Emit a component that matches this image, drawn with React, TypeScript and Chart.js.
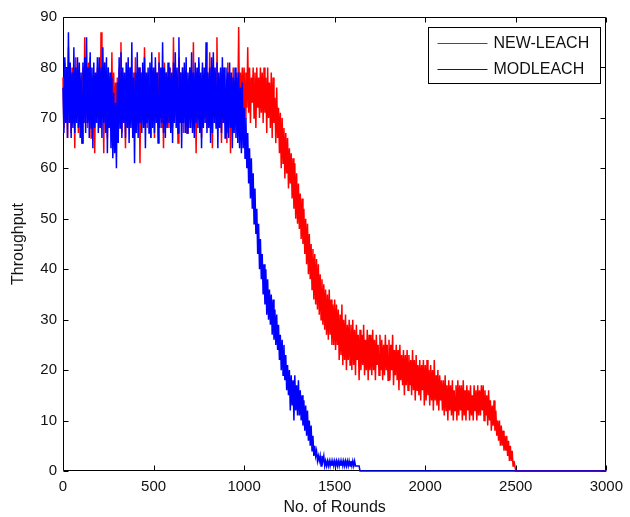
import { useEffect, useRef } from "react";
import { Chart, registerables } from "chart.js";

Chart.register(...registerables);

// rounds are sampled every ROUND_STEP rounds, starting at round 0
const ROUND_STEP = 5;
const LAST_ROUND = 3000;
const xTicks = [0, 500, 1000, 1500, 2000, 2500, 3000];
const yTicks = [0, 10, 20, 30, 40, 50, 60, 70, 80, 90];
const seriesNames = ["NEW-LEACH", "MODLEACH"];

const newLeach = [
  78, 68, 81, 70, 77, 66, 84, 71, 79, 67, 80, 69, 77, 64, 82, 70, 78, 67, 79, 71,
  76, 65, 80, 69, 86, 70, 78, 68, 81, 71, 82, 66, 78, 70, 79, 63, 77, 69, 80, 70,
  79, 68, 87, 70, 77, 63, 81, 71, 78, 66, 80, 69, 78, 70, 83, 67, 79, 66, 77, 70,
  78, 69, 80, 70, 85, 67, 79, 71, 77, 64, 81, 70, 78, 68, 80, 69, 77, 67, 79, 71,
  82, 68, 77, 70, 80, 61, 79, 70, 78, 69, 84, 71, 77, 68, 79, 70, 80, 66, 78, 70,
  77, 66, 80, 71, 79, 69, 83, 70, 78, 68, 77, 64, 81, 70, 79, 71, 78, 68, 80, 69,
  78, 68, 86, 70, 79, 71, 77, 65, 82, 70, 79, 69, 80, 67, 78, 70, 79, 67, 77, 71,
  80, 69, 78, 70, 85, 68, 77, 63, 79, 70, 81, 71, 78, 66, 80, 69, 77, 70, 79, 68,
  77, 70, 83, 68, 78, 64, 80, 71, 79, 69, 86, 70, 78, 68, 79, 65, 77, 70, 80, 69,
  76, 65, 81, 70, 79, 63, 78, 71, 80, 68, 77, 70, 79, 72, 88, 70, 79, 72, 80, 71,
  80, 70, 79, 72, 84, 71, 80, 69, 78, 73, 80, 70, 79, 68, 80, 72, 78, 70, 80, 71,
  79, 69, 80, 71, 78, 67, 80, 70, 77, 68, 79, 66, 78, 69, 74, 65, 76, 66, 72, 63,
  71, 60, 70, 61, 68, 58, 67, 59, 66, 56, 64, 57, 63, 54, 62, 52, 61, 50, 59, 49,
  57, 48, 55, 46, 54, 45, 52, 43, 50, 41, 49, 39, 47, 38, 45, 36, 44, 34, 43, 33,
  42, 32, 41, 31, 39, 30, 38, 29, 37, 28, 36, 27, 35, 26, 36, 27, 34, 25, 33, 25,
  34, 24, 33, 25, 32, 22, 31, 23, 33, 21, 30, 22, 31, 20, 29, 22, 30, 21, 29, 20,
  30, 21, 28, 19, 29, 22, 27, 18, 28, 20, 27, 21, 29, 19, 26, 20, 28, 18, 27, 20,
  27, 19, 28, 20, 26, 18, 27, 21, 25, 19, 27, 20, 26, 18, 25, 19, 27, 20, 25, 18,
  26, 18, 25, 20, 27, 17, 24, 19, 25, 18, 24, 16, 25, 18, 23, 17, 24, 15, 23, 17,
  24, 16, 23, 17, 22, 15, 24, 16, 22, 14, 23, 16, 21, 15, 22, 14, 21, 16, 22, 13,
  21, 14, 22, 15, 20, 13, 21, 14, 20, 12, 22, 14, 19, 13, 20, 12, 19, 14, 18, 12,
  18, 11, 19, 12, 17, 10, 18, 12, 17, 11, 18, 10, 16, 12, 17, 10, 18, 11, 17, 12,
  17, 10, 18, 11, 16, 10, 17, 12, 16, 10, 17, 11, 15, 10, 17, 12, 16, 10, 17, 11,
  16, 11, 17, 12, 17, 10, 16, 11, 15, 9, 16, 10, 14, 8, 13, 9, 14, 8, 12, 7,
  10, 6, 10, 5, 9, 5, 8, 4, 7, 4, 7, 3, 6, 2, 5, 2, 4, 1, 2, 1,
  0,
];

const modLeach = [
  76, 67, 82, 69, 80, 66, 87, 69, 81, 66, 79, 68, 84, 67, 80, 69, 82, 68, 81, 66,
  79, 65, 81, 69, 82, 67, 86, 69, 80, 66, 83, 68, 80, 64, 81, 68, 79, 69, 82, 67,
  82, 68, 80, 66, 84, 69, 81, 67, 82, 63, 80, 68, 79, 64, 78, 62, 75, 63, 73, 60,
  77, 65, 82, 68, 83, 66, 80, 69, 79, 66, 81, 68, 82, 65, 80, 68, 85, 66, 78, 61,
  79, 67, 83, 66, 80, 69, 79, 67, 81, 68, 82, 64, 79, 69, 80, 67, 81, 66, 83, 68,
  80, 67, 82, 69, 79, 65, 81, 68, 80, 69, 85, 67, 80, 66, 79, 68, 81, 69, 80, 67,
  79, 65, 81, 69, 83, 68, 80, 67, 86, 69, 79, 64, 80, 69, 81, 67, 82, 67, 79, 68,
  80, 68, 83, 67, 79, 66, 81, 69, 80, 68, 82, 67, 79, 64, 81, 68, 80, 69, 85, 67,
  79, 68, 80, 65, 82, 67, 83, 69, 80, 68, 81, 64, 79, 68, 80, 67, 82, 69, 80, 66,
  80, 67, 79, 66, 81, 68, 79, 64, 78, 67, 80, 66, 78, 65, 79, 64, 76, 63, 77, 64,
  72, 62, 70, 60, 67, 57, 64, 54, 62, 52, 59, 49, 56, 47, 52, 43, 49, 40, 46, 38,
  43, 35, 41, 33, 40, 31, 38, 30, 36, 29, 35, 27, 34, 26, 32, 25, 31, 24, 29, 22,
  27, 20, 26, 19, 25, 18, 23, 16, 21, 15, 20, 12, 19, 13, 18, 10, 19, 12, 17, 11,
  18, 11, 16, 10, 15, 9, 14, 8, 13, 7, 12, 6, 10, 5, 9, 4, 7, 3, 5, 3,
  4, 2, 3, 2, 3, 1, 3, 2, 3, 1, 2, 1, 2, 1, 2, 1, 2, 1, 2, 1,
  2, 1, 2, 1, 2, 1, 2, 1, 2, 1, 2, 1, 2, 1, 2, 1, 2, 1, 2, 1,
  2, 1, 2, 1, 1, 1, 1, 1, 0,
];

const toPoints = (vals: number[]) => {
  const pts = vals.map((v, i) => ({ x: i * ROUND_STEP, y: v }));
  pts.push({ x: LAST_ROUND, y: 0 });
  return pts;
};

const FONT = "'Liberation Sans', Arial, sans-serif";

const framePlugin = {
  id: "matlabFrame",
  beforeDatasetsDraw(chart: any) {
    const { ctx, chartArea: a, scales } = chart;
    ctx.save();
    ctx.strokeStyle = "#000";
    ctx.lineWidth = 1;
    const L = Math.round(a.left) + 0.5;
    const R = Math.round(a.right) - 0.5;
    const T = Math.round(a.top) + 0.5;
    const B = Math.round(a.bottom) - 0.5;
    ctx.beginPath();
    ctx.rect(L, T, R - L, B - T);
    const tl = 5;
    xTicks.forEach((v) => {
      const px = Math.round(scales.x.getPixelForValue(v)) + 0.5;
      ctx.moveTo(px, B);
      ctx.lineTo(px, B - tl);
      ctx.moveTo(px, T);
      ctx.lineTo(px, T + tl);
    });
    yTicks.forEach((v) => {
      const py = Math.round(scales.y.getPixelForValue(v)) + 0.5;
      ctx.moveTo(L, py);
      ctx.lineTo(L + tl, py);
      ctx.moveTo(R, py);
      ctx.lineTo(R - tl, py);
    });
    ctx.stroke();
    ctx.restore();
  },
  afterDatasetsDraw(chart: any) {
    const { ctx, chartArea: a } = chart;
    const colors = ["#ff0000", "#0000ff"];
    const w = 172;
    const h = 56;
    const x0 = Math.round(a.right - 6 - w) + 0.5;
    const y0 = Math.round(a.top + 10) + 0.5;
    ctx.save();
    ctx.fillStyle = "#fff";
    ctx.fillRect(x0, y0, w, h);
    ctx.strokeStyle = "#000";
    ctx.lineWidth = 1;
    ctx.strokeRect(x0, y0, w, h);
    ctx.font = `16px ${FONT}`;
    ctx.textBaseline = "middle";
    ctx.textAlign = "left";
    seriesNames.forEach((name, i) => {
      const y = Math.round(y0 + 15 + i * 26) + 0.5;
      ctx.strokeStyle = colors[i];
      ctx.beginPath();
      ctx.moveTo(x0 + 9, y);
      ctx.lineTo(x0 + 59, y);
      ctx.stroke();
      ctx.fillStyle = "#111";
      ctx.fillText(name, x0 + 65, y + 0.5);
    });
    ctx.restore();
  },
};

export default function App() {
  const ref = useRef<HTMLCanvasElement | null>(null);
  useEffect(() => {
    if (!ref.current) return;
    const chart = new Chart(ref.current, {
      type: "line",
      data: {
        datasets: [
          {
            label: seriesNames[1],
            data: toPoints(modLeach),
            borderColor: "#0000ff",
            borderWidth: 1.5,
            pointRadius: 0,
            tension: 0,
            clip: false as any,
          },
          {
            label: seriesNames[0],
            data: toPoints(newLeach),
            borderColor: "#ff0000",
            borderWidth: 1.5,
            pointRadius: 0,
            tension: 0,
            clip: false as any,
          },
        ],
      },
      options: {
        animation: false,
        responsive: false,
        events: [],
        layout: { padding: { left: 0, top: 17, right: 18, bottom: 0 } },
        plugins: { legend: { display: false }, tooltip: { enabled: false } },
        scales: {
          x: {
            type: "linear",
            min: xTicks[0],
            max: xTicks[xTicks.length - 1],
            ticks: {
              stepSize: xTicks[1] - xTicks[0],
              color: "#111",
              font: { family: FONT, size: 15 },
              padding: 7,
              maxRotation: 0,
              callback: (v: any) => String(v),
            },
            grid: { display: false, drawTicks: false },
            border: { display: false },
            title: {
              display: true,
              text: "No. of Rounds",
              color: "#111",
              font: { family: FONT, size: 16 },
              padding: { top: 0, bottom: 0 },
            },
            afterFit: (s: any) => {
              s.height = 46;
            },
          },
          y: {
            type: "linear",
            min: yTicks[0],
            max: yTicks[yTicks.length - 1],
            ticks: {
              stepSize: yTicks[1] - yTicks[0],
              color: "#111",
              font: { family: FONT, size: 15 },
              padding: 6,
              callback: (v: any) => String(v),
            },
            grid: { display: false, drawTicks: false },
            border: { display: false },
            title: {
              display: true,
              text: "Throughput",
              color: "#111",
              font: { family: FONT, size: 16 },
              padding: { top: 9, bottom: 0 },
            },
            afterFit: (s: any) => {
              s.width = 63;
            },
          },
        },
      },
      plugins: [framePlugin],
    });
    return () => chart.destroy();
  }, []);
  return (
    <div style={{ position: "absolute", left: 0, top: 0, width: 630, height: 517, background: "#fff" }}>
      <canvas ref={ref} width={630} height={517} style={{ display: "block" }} />
    </div>
  );
}
